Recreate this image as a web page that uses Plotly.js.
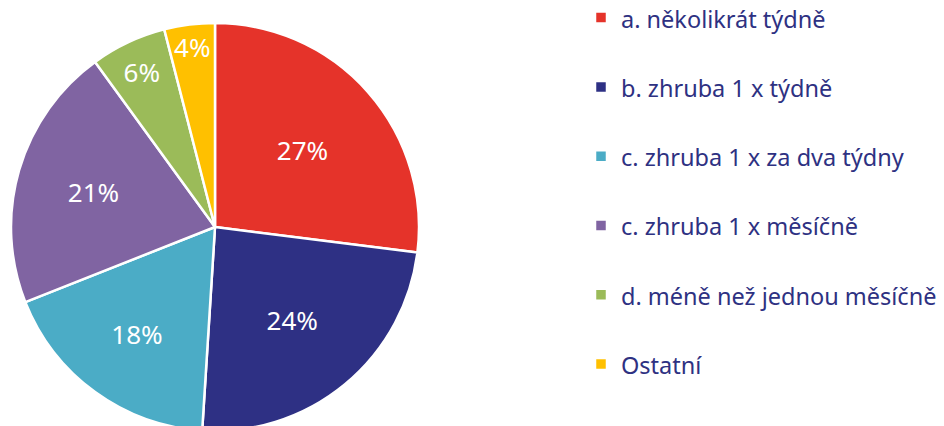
<!DOCTYPE html>
<html>
<head>
<meta charset="utf-8">
<script src="https://cdn.plot.ly/plotly-3.0.1.min.js"></script>
<style>
html, body { margin: 0; padding: 0; overflow: hidden; background: #fff; }
#chart { width: 944px; height: 480px; margin-top: -10px; }
</style>
</head>
<body>
<div id="chart"></div>
<script>
const categories = [
  "a. několikrát týdně",
  "b. zhruba 1 x týdně",
  "c. zhruba 1 x za dva týdny",
  "c. zhruba 1 x měsíčně",
  "d. méně než jednou měsíčně",
  "Ostatní"
];
const shares = [27, 24, 18, 21, 6, 4];
const colors = ["#e5332a", "#2e3084", "#4bacc6", "#8064a2", "#9bbb59", "#ffc000"];

const W = 944, H = 480, OFF = 10;
const legendLabels = categories.map(c => '<span style="font-size:23.5px">' + c + '</span><br> ');

const trace = {
  type: 'pie',
  values: shares,
  labels: legendLabels,
  text: shares.map(v => v + '%'),
  textinfo: 'text',
  textposition: 'inside',
  insidetextorientation: 'horizontal',
  sort: false,
  direction: 'clockwise',
  rotation: 0,
  marker: { colors: colors, line: { color: '#ffffff', width: 2.5 } },
  textfont: { family: 'Noto Sans, sans-serif', size: 26, color: '#ffffff' },
  hoverinfo: 'none',
  domain: { x: [11 / W, 419 / W], y: [(H - 431 - OFF) / H, (H - 23 - OFF) / H] }
};

const layout = {
  width: W,
  height: H,
  margin: { l: 0, r: 0, t: 0, b: 0 },
  paper_bgcolor: '#ffffff',
  showlegend: true,
  uniformtext: { mode: 'show', minsize: 26 },
  legend: {
    x: 581 / W, xanchor: 'left',
    y: 1 - 4.5 / H, yanchor: 'top',
    valign: 'top',
    font: { family: 'Noto Sans, sans-serif', size: 25.5, color: '#2e3182' },
    bgcolor: 'rgba(0,0,0,0)'
  },
  font: { family: 'Noto Sans, sans-serif' }
};

Plotly.newPlot('chart', [trace], layout, { displayModeBar: false, staticPlot: true });
</script>
</body>
</html>
